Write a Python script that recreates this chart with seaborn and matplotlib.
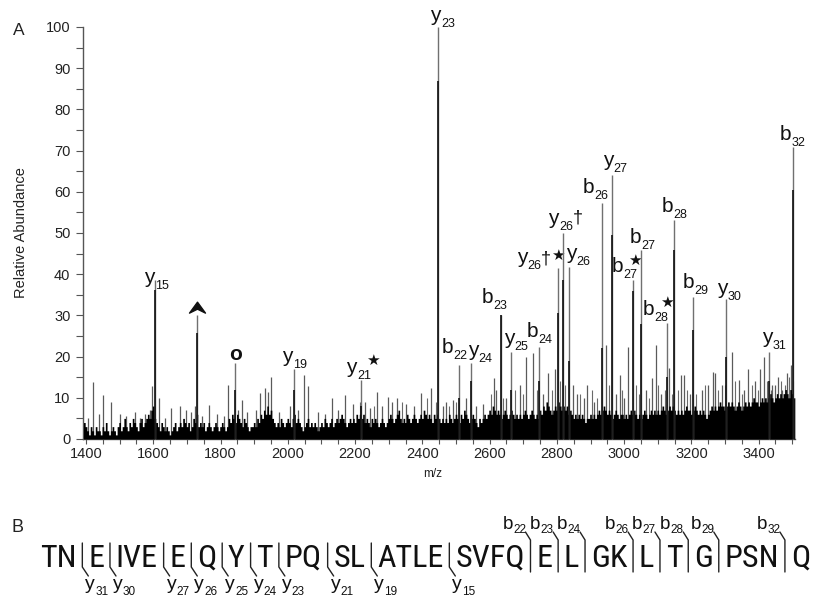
import numpy as np
import pandas as pd
import matplotlib
matplotlib.use("Agg")
import matplotlib.pyplot as plt
import seaborn as sns
from matplotlib import font_manager
from matplotlib.path import Path
from matplotlib.transforms import ScaledTranslation

# ---------------- data ----------------
# labelled fragment peaks (m/z, apex height, height of the darker inner stick)
peak_mz = [1606, 1730, 1844, 2018, 2218, 2446.5, 2509, 2544, 2635, 2663, 2747,
           2802, 2818, 2835, 2933, 2962.5, 3027, 3049, 3128, 3149, 3205, 3303, 3432, 3501]
peak_top = [38.6, 30.1, 18.4, 16.9, 14.3, 100.0, 18.0, 18.4, 30.1, 21.2, 22.4,
            41.4, 50.1, 41.8, 57.2, 64.1, 38.6, 45.9, 28.2, 53.2, 34.5, 34.1, 21.2, 70.9]
peak_core = [36.2, 25.7, 12.0, 12.0, 8.0, 87.0, 10.0, 14.0, 30.1, 12.0, 14.0,
             30.5, 38.6, 19.0, 22.0, 49.5, 36.0, 28.0, 15.0, 45.9, 26.5, 20.0, 14.0, 60.4]
peak_ion = ['y', 'arrow', 'o', 'y', 'y', 'y', 'b', 'y', 'b', 'y', 'b',
            'y', 'y', 'y', 'b', 'y', 'b', 'b', 'b', 'b', 'b', 'y', 'y', 'b']
peak_num = ['15', '', '', '19', '21', '23', '22', '24', '23', '25', '24',
            '26', '26', '26', '26', '27', '27', '27', '28', '28', '29', '30', '31', '32']
peak_mark = ['', '', '', '', '★', '', '', '', '', '', '',
             '†★', '†', '', '', '', '★', '', '★', '', '', '', '', '']

# unlabelled peaks standing above the noise
minor_mz = [1405, 1422, 1440, 1450, 1474, 1500, 1520, 1545, 1560, 1575, 1590, 1596, 1618,
            1635, 1652, 1680, 1697, 1712, 1723, 1745, 1766, 1788, 1810, 1823.5, 1852, 1864,
            1880, 1905, 1916, 1931, 1940, 1951, 1975, 2005, 2030, 2047, 2060, 2090, 2110,
            2131, 2150, 2169, 2195, 2230, 2245, 2266, 2280, 2298, 2310, 2326, 2350, 2375,
            2397, 2425, 2460, 2470, 2490, 2530, 2560, 2580, 2613, 2620, 2650, 2690, 2707,
            2729, 2760, 2774, 2794, 2848, 2860, 2880, 2891, 2910, 2945, 2975, 2987, 3000,
            3012, 3065, 3082, 3094, 3110, 3134, 3168, 3178, 3195, 3230, 3250, 3265, 3271,
            3290, 3320, 3342, 3355, 3369, 3390, 3404, 3416, 3440, 3450, 3458, 3470, 3483, 3495]
minor_h = [5, 13.9, 6, 10.8, 9.1, 6, 5.5, 6.5, 5, 6, 7, 12.9, 9.9,
           5, 7.5, 8, 7, 6.5, 8, 5.5, 8.2, 6, 5.5, 13.1, 7, 9.4,
           6.5, 7, 11.1, 12.3, 11.5, 15.1, 6.5, 8, 7, 15.5, 12.9, 6.5, 6,
           9.9, 7, 10.7, 8.5, 9, 7.5, 11.5, 8, 10.3, 9, 9.9, 8.5, 8,
           11.1, 12.5, 8, 9, 9.5, 10, 8, 8.5, 14.7, 12, 10, 13, 20,
           20.8, 11, 16, 17, 13, 11, 10, 13, 9, 22.8, 11, 15.6, 10,
           22.4, 12, 14.8, 22.8, 11, 17.3, 15.6, 15.5, 11, 12, 13, 16.3, 16,
           13, 21, 14.3, 12, 17.1, 14, 17.1, 20, 13, 13, 15, 12, 16, 18]

# thin "grass" sticks just above the noise floor
grass_mz = [2215, 2255, 2340, 2415, 2440, 2480, 2500, 2545, 2605, 2640, 2675, 2700,
            2740, 2785, 2810, 2825, 2870, 2905, 2920, 2955, 2995, 3035, 3045, 3075,
            3102, 3120, 3142, 3160, 3188, 3215, 3240, 3280, 3300, 3330, 3350, 3380,
            3397, 3425, 3437, 3465, 3477, 3490, 3503]
grass_h = [9, 8, 9, 10, 9, 8, 9, 8, 11, 10, 12, 11,
           12, 12, 14, 13, 11, 12, 10, 13, 12, 13, 11, 10,
           13, 12, 11, 12, 12, 11, 13, 12, 13, 14, 11, 13,
           12, 14, 12, 14, 13, 15, 14]

# dense noise floor, one value every 5 m/z starting at 1395
noise_start, noise_step = 1395, 5
noise_h = (
    [4, 3, 2, 1, 3, 2, 1, 3, 2, 2, 1, 3, 2, 4, 2, 1, 2, 3, 2, 1] +
    [3, 4, 2, 3, 5, 3, 2, 4, 3, 5, 4, 3, 2, 4, 5, 3, 4, 5, 6, 5] +
    [7, 8, 5, 4, 3, 2, 4, 3, 2, 3, 2, 1, 2, 3, 4, 2, 3, 4, 3, 5] +
    [4, 3, 4, 2, 3, 5, 4, 6, 3, 4, 3, 4, 2, 3, 4, 3, 2, 3, 4, 3] +
    [2, 3, 4, 3, 2, 3, 5, 4, 6, 5, 4, 6, 5, 4, 3, 5, 4, 3, 2, 3] +
    [3, 4, 3, 5, 4, 6, 5, 7, 6, 8, 6, 7, 5, 4, 3, 4, 3, 5, 4, 3] +
    [4, 5, 4, 3, 5, 6, 4, 5, 4, 3, 2, 3, 4, 5, 3, 4, 3, 4, 3, 2] +
    [3, 4, 3, 5, 4, 3, 4, 5, 3, 4, 5, 4, 5, 6, 5, 4, 3, 4, 5, 4] +
    [5, 4, 6, 5, 6, 5, 6, 4, 5, 4, 3, 5, 4, 5, 4, 3, 4, 5, 4, 3] +
    [4, 5, 6, 5, 4, 5, 6, 7, 5, 4, 5, 4, 6, 5, 4, 5, 6, 5, 4, 5] +
    [6, 5, 7, 6, 5, 6, 5, 4, 6, 5, 6, 5, 4, 5, 4, 5, 4, 6, 5, 4] +
    [5, 6, 5, 4, 6, 5, 7, 6, 5, 4, 5, 6, 5, 4, 3, 5, 4, 5, 6, 5] +
    [6, 7, 6, 8, 7, 6, 7, 6, 5, 6, 7, 6, 5, 6, 7, 6, 5, 6, 5, 6] +
    [5, 6, 7, 6, 5, 6, 7, 6, 5, 6, 5, 7, 6, 8, 7, 9, 8, 7, 6, 7] +
    [8, 7, 9, 8, 7, 8, 7, 8, 6, 7, 6, 5, 6, 5, 6, 5, 6, 5, 4, 5] +
    [5, 6, 5, 6, 5, 6, 7, 6, 7, 8, 7, 6, 7, 6, 5, 6, 7, 6, 5, 6] +
    [6, 5, 6, 5, 6, 7, 6, 7, 6, 5, 6, 5, 6, 7, 6, 5, 6, 7, 6, 7] +
    [6, 7, 6, 7, 8, 7, 6, 7, 8, 7, 8, 7, 6, 7, 6, 7, 6, 7, 8, 7] +
    [7, 6, 7, 8, 7, 6, 7, 6, 7, 6, 5, 6, 7, 8, 7, 8, 7, 8, 9, 8] +
    [8, 7, 8, 9, 8, 9, 8, 7, 8, 9, 8, 7, 8, 9, 8, 9, 8, 9, 10, 9] +
    [9, 8, 9, 10, 9, 10, 9, 10, 11, 10, 9, 10, 11, 10, 11, 10, 11, 12, 11, 10] +
    [12, 11, 10]
)

x_ticks = list(range(1400, 3401, 200))
y_ticks = list(range(0, 101, 10))

sequence = "TNEIVEEQYTPQSLATLESVFQELGKLTGPSNQ"
y_ions = [31, 30, 27, 26, 25, 24, 23, 21, 19, 15]
b_ions = [22, 23, 24, 26, 27, 28, 29, 32]

# ---------------- layout / style ----------------
W, H = 817, 602
label_layout = {   # offsets in pixels of the main letter from the peak apex, extra marks
    'y15': ((-11, -3), []), 'y19': ((-11.6, 7), []), 'y21★': ((-15, 7), [(20, 8)]),
    'y23': ((-8, 6), []), 'b22': ((-17, 12), []), 'y24': ((-3, 7), []),
    'b23': ((-20, 12), []), 'y25': ((-7, 8), []), 'b24': ((-12, 10), []),
    'y26†★': ((-41, 5), [(24.5, 0), (34.5, 3)]), 'y26†': ((-15, 9), [(24.5, 1)]),
    'y26': ((-3, 8), []), 'b26': ((-18.6, 10), []), 'y27': ((-9, 9), []),
    'b27★': ((-21.6, 8), [(16, 7.5)]), 'b27': ((-10.7, 7), []),
    'b28★': ((-24.6, 8), [(17, 7.5)]), 'b28': ((-12.6, 8), []),
    'b29': ((-10.6, 9), []), 'y30': ((-9.3, 5), []), 'y31': ((-7.6, 9), []),
    'b32': ((-12.7, 7), []),
}

sns.set_theme(style="ticks")
plt.rcParams['font.family'] = ['Liberation Sans', 'DejaVu Sans']
plt.rcParams['axes.unicode_minus'] = False

fig = plt.figure(figsize=(W / 100, H / 100), dpi=100)
ax = fig.add_axes([83 / W, 1 - 439 / H, (795 - 83) / W, (439 - 27) / H])
ax.set_facecolor('none')

# noise floor via seaborn histogram (weights = intensity, one value per bin)
noise_df = pd.DataFrame({'mz': noise_start + noise_step * np.arange(len(noise_h)),
                         'h': noise_h})
lo = noise_start - noise_step / 2
sns.histplot(data=noise_df, x='mz', weights='h', binwidth=noise_step,
             binrange=(lo, lo + noise_step * len(noise_h)), element='step', fill=True,
             color='black', alpha=1, linewidth=0, ax=ax, zorder=3)

ax.vlines(grass_mz, 0, grass_h, colors='#6a6a6a', lw=0.8, zorder=2)
ax.vlines(minor_mz, 0, minor_h, colors='#5a5a5a', lw=0.9, zorder=2)
ax.vlines(peak_mz, 0, peak_top, colors='#707070', lw=1.0, zorder=4, clip_on=False)
ax.vlines(peak_mz, 0, peak_core, colors='#111111', lw=1.2, zorder=5)

ax.set_xlim(1391, 3508)
ax.set_ylim(0, 100)
ax.set_xticks(x_ticks)
ax.set_xticks(list(range(1400, 3501, 50)), minor=True)
ax.set_yticks(y_ticks)
ax.set_yticks(list(range(0, 101, 5)), minor=True)
ax.set_xlabel('')
ax.set_ylabel('')
for s in ['top', 'right']:
    ax.spines[s].set_visible(False)
for s in ['left', 'bottom']:
    ax.spines[s].set_color('#555555')
    ax.spines[s].set_linewidth(1.0)
ax.tick_params(axis='both', which='both', direction='out', color='#555555', width=0.8,
               labelsize=10.5, labelcolor='#222222')
ax.tick_params(axis='y', which='both', length=5, pad=4)
ax.tick_params(axis='x', which='both', length=3.5, pad=2)

# peak annotations
ann = dict(xycoords='data', textcoords='offset pixels', annotation_clip=False, color='#111111')
for mz, top, ion, num, mark in zip(peak_mz, peak_top, peak_ion, peak_num, peak_mark):
    if ion == 'arrow':
        dart = Path([(0, 0.75), (0.95, -0.55), (0, -0.08), (-0.95, -0.55), (0, 0.75)],
                    [Path.MOVETO, Path.LINETO, Path.LINETO, Path.LINETO, Path.CLOSEPOLY])
        ax.plot([mz], [top], marker=dart, ms=11.5, color='#111111', ls='none',
                clip_on=False, zorder=6,
                transform=ax.transData + ScaledTranslation(0, 6.6 / 100, fig.dpi_scale_trans))
        continue
    if ion == 'o':
        ax.annotate('o', xy=(mz, top), xytext=(0, 3), fontsize=15, fontweight='bold',
                    ha='center', va='baseline', **ann)
        continue
    (dx, dy), extras = label_layout[ion + num + mark]
    ax.annotate(ion, xy=(mz, top), xytext=(dx, dy), fontsize=15, ha='left', va='baseline', **ann)
    wm = 11 if ion == 'y' else 11.5
    ax.annotate(num, xy=(mz, top), xytext=(dx + wm, dy - 6), fontsize=9, ha='left',
                va='baseline', **ann)
    for ch, (mx, my) in zip(mark, extras):
        if ch == '★':
            ax.annotate(ch, xy=(mz, top), xytext=(dx + mx, dy + my), fontsize=11,
                        family=['DejaVu Sans'], ha='left', va='baseline', **ann)
        else:
            ax.annotate(ch, xy=(mz, top), xytext=(dx + mx, dy + my), fontsize=13,
                        ha='left', va='baseline', **ann)

# ---------------- pixel overlay for panel letters and panel B ----------------
bax = fig.add_axes([0, 0, 1, 1], zorder=-1)
bax.set_xlim(0, W)
bax.set_ylim(H, 0)
bax.axis('off')

bax.text(13, 35, 'A', fontsize=12.5, color='#222222', ha='left', va='baseline')
bax.text(21, 233, 'Relative Abundance', fontsize=10.5, color='#222222', rotation=90,
         ha='center', va='center')
bax.text(433, 477, 'm/z', fontsize=8.5, color='#222222', ha='center', va='baseline')
bax.text(12, 532, 'B', fontsize=13, color='#222222', ha='left', va='baseline')

avail = {f.name for f in font_manager.fontManager.ttflist}
narrow = next((n for n in ['Liberation Sans Narrow', 'Arial Narrow', 'Roboto Condensed',
                           'Open Sans Condensed'] if n in avail), None)
seq_font = [narrow, 'DejaVu Sans'] if narrow else ['Liberation Sans', 'DejaVu Sans']
seq_fs = 23.0

n = len(sequence)
cut_type = {}
for k in y_ions:
    cut_type.setdefault(n - k, []).append(('y', k))
for k in b_ions:
    cut_type.setdefault(k, []).append(('b', k))
cuts = sorted(cut_type)
bounds = [0] + cuts + [n]
segments = [sequence[a:b] for a, b in zip(bounds[:-1], bounds[1:])]

base_y, x0, x1 = 567, 40, 810
renderer = fig.canvas.get_renderer()
seg_texts = [bax.text(0, base_y, s, fontsize=seq_fs, family=seq_font, color='#111111',
                      ha='left', va='baseline') for s in segments]
widths = [t.get_window_extent(renderer).width for t in seg_texts]
ngap = len(segments) - 1
total = sum(widths)
min_gap = 9.0
if (x1 - x0 - total) / ngap < min_gap:
    scale = (x1 - x0 - min_gap * ngap) / total
    seq_fs *= scale
    for t in seg_texts:
        t.set_fontsize(seq_fs)
    widths = [t.get_window_extent(renderer).width for t in seg_texts]
    total = sum(widths)
gap = (x1 - x0 - total) / ngap

x = x0
for i, (t, w) in enumerate(zip(seg_texts, widths)):
    t.set_x(x)
    x += w
    if i < ngap:
        xb = x + gap / 2
        for kind, num in cut_type[cuts[i]]:
            if kind == 'y':
                bax.plot([xb, xb, xb + 6], [543, 567, 576], color='#222222', lw=1.0,
                         solid_joinstyle='round')
                bax.text(xb + 3, 589, 'y', fontsize=14, color='#111111', ha='left',
                         va='baseline')
                bax.text(xb + 13, 595, str(num), fontsize=8.5, color='#111111', ha='left',
                         va='baseline')
            else:
                bax.plot([xb - 5, xb, xb], [532, 540, 572], color='#222222', lw=1.0,
                         solid_joinstyle='round')
                bax.text(xb - 28, 529, 'b', fontsize=13.5, color='#111111', ha='left',
                         va='baseline')
                bax.text(xb - 17.5, 533, str(num), fontsize=8.5, color='#111111', ha='left',
                         va='baseline')
        x += gap

fig.savefig('out.png', dpi=100)
